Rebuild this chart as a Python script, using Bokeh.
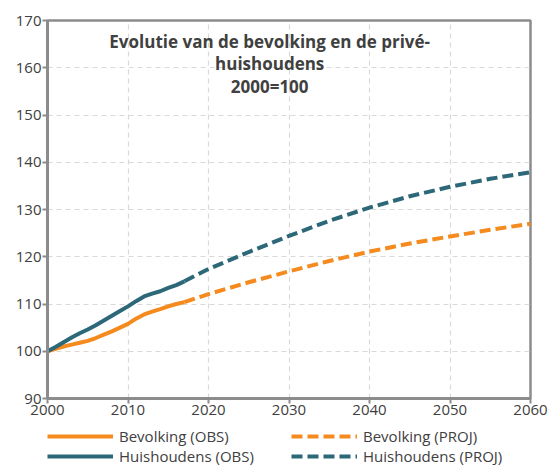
from bokeh.plotting import figure
from bokeh.layouts import column
from bokeh.models import Legend, LegendItem, Label, Range1d, FixedTicker
from bokeh.embed import file_html
from bokeh.resources import INLINE

# ---- data ----
years_obs = [2000, 2001, 2002, 2003, 2004, 2005, 2006, 2007, 2008, 2009,
             2010, 2011, 2012, 2013, 2014, 2015, 2016, 2017]
bev_obs = [100.0, 100.5, 101.0, 101.4, 101.8, 102.2, 102.8, 103.5, 104.2, 105.0,
           105.8, 106.9, 107.8, 108.4, 108.9, 109.5, 110.0, 110.4]
hh_obs = [100.0, 100.9, 101.9, 102.9, 103.8, 104.6, 105.5, 106.5, 107.5, 108.5,
          109.5, 110.6, 111.6, 112.2, 112.7, 113.4, 114.0, 114.8]

years_proj = [2017, 2020, 2025, 2030, 2035, 2040, 2045, 2050, 2055, 2060]
bev_proj = [110.4, 112.1, 114.6, 116.9, 119.1, 121.1, 122.8, 124.3, 125.7, 127.0]
hh_proj = [114.8, 117.4, 121.0, 124.4, 127.6, 130.4, 132.8, 134.8, 136.5, 137.9]

x_ticks = [2000, 2010, 2020, 2030, 2040, 2050, 2060]
y_ticks = [90, 100, 110, 120, 130, 140, 150, 160, 170]

labels = ["Bevolking (OBS)", "Huishoudens (OBS)", "Bevolking (PROJ)", "Huishoudens (PROJ)"]
title_text = "Evolutie van de bevolking en de privé-\nhuishoudens\n2000=100"

ORANGE = "#F58A1F"
BLUE = "#2D6878"
GRAY = "#8C8C8C"
TXT = "#404040"
FONT = "Open Sans"
DASH = "11 5"

p = figure(width=548, height=426, output_backend="svg", toolbar_location=None,
           x_range=Range1d(2000, 2060), y_range=Range1d(90, 170),
           min_border_left=47, min_border_right=18, min_border_top=20, min_border_bottom=28)

p.background_fill_color = "white"
p.border_fill_color = "white"
p.outline_line_color = GRAY
p.outline_line_width = 2.5

for ax in (p.xaxis[0], p.yaxis[0]):
    ax.axis_line_color = GRAY
    ax.axis_line_width = 3
    ax.major_tick_line_color = GRAY
    ax.major_tick_line_width = 2
    ax.major_tick_out = 5
    ax.major_tick_in = 0
    ax.minor_tick_line_color = None
    ax.major_label_text_font = FONT
    ax.major_label_text_font_size = "15px"
    ax.major_label_text_color = TXT
    ax.major_label_standoff = 1

p.xaxis.ticker = FixedTicker(ticks=x_ticks)
p.yaxis.ticker = FixedTicker(ticks=y_ticks)

for g in (p.xgrid[0], p.ygrid[0]):
    g.grid_line_color = "#D9D9D9"
    g.grid_line_width = 1.2
    g.grid_line_dash = "5 4"

p.line(years_obs, bev_obs, line_color=ORANGE, line_width=4)
p.line(years_obs, hh_obs, line_color=BLUE, line_width=4)
p.line(years_proj, bev_proj, line_color=ORANGE, line_width=4, line_dash=DASH)
p.line(years_proj, hh_proj, line_color=BLUE, line_width=4, line_dash=DASH)

title = Label(x=2027.6, y=168.0, text=title_text, text_align="center",
              text_baseline="top", text_font=FONT, text_font_style="bold",
              text_font_size="17px", text_color=TXT, text_line_height=0.98)
p.add_layout(title)

# ---- legend strip (separate figure; its series lie outside its ranges,
#      so only the Legend's own samples are visible) ----
q = figure(width=548, height=39, output_backend="svg", toolbar_location=None,
           x_range=Range1d(0, 1), y_range=Range1d(0, 1),
           x_axis_type=None, y_axis_type=None,
           min_border_left=47, min_border_right=0, min_border_top=0, min_border_bottom=0)
q.outline_line_color = None
q.xgrid.visible = False
q.ygrid.visible = False
q.background_fill_color = "white"
q.border_fill_color = "white"

e1 = q.line(years_obs, bev_obs, line_color=ORANGE, line_width=4)
e2 = q.line(years_proj, bev_proj, line_color=ORANGE, line_width=4, line_dash=DASH)
e3 = q.line(years_obs, hh_obs, line_color=BLUE, line_width=4)
e4 = q.line(years_proj, hh_proj, line_color=BLUE, line_width=4, line_dash=DASH)

legend = Legend(items=[LegendItem(label=labels[0], renderers=[e1]),
                       LegendItem(label=labels[2], renderers=[e2]),
                       LegendItem(label=labels[1], renderers=[e3]),
                       LegendItem(label=labels[3], renderers=[e4])],
                location="top_left", orientation="horizontal", ncols=2,
                glyph_width=66, glyph_height=18, label_height=18,
                label_width=172, label_standoff=6, spacing=0,
                padding=0, margin=0, border_line_color=None,
                background_fill_alpha=0,
                label_text_font=FONT, label_text_font_size="15px",
                label_text_color=TXT)
q.add_layout(legend, "center")

layout = column(p, q, spacing=0)
open("out.html", "w").write(file_html(layout, INLINE))
